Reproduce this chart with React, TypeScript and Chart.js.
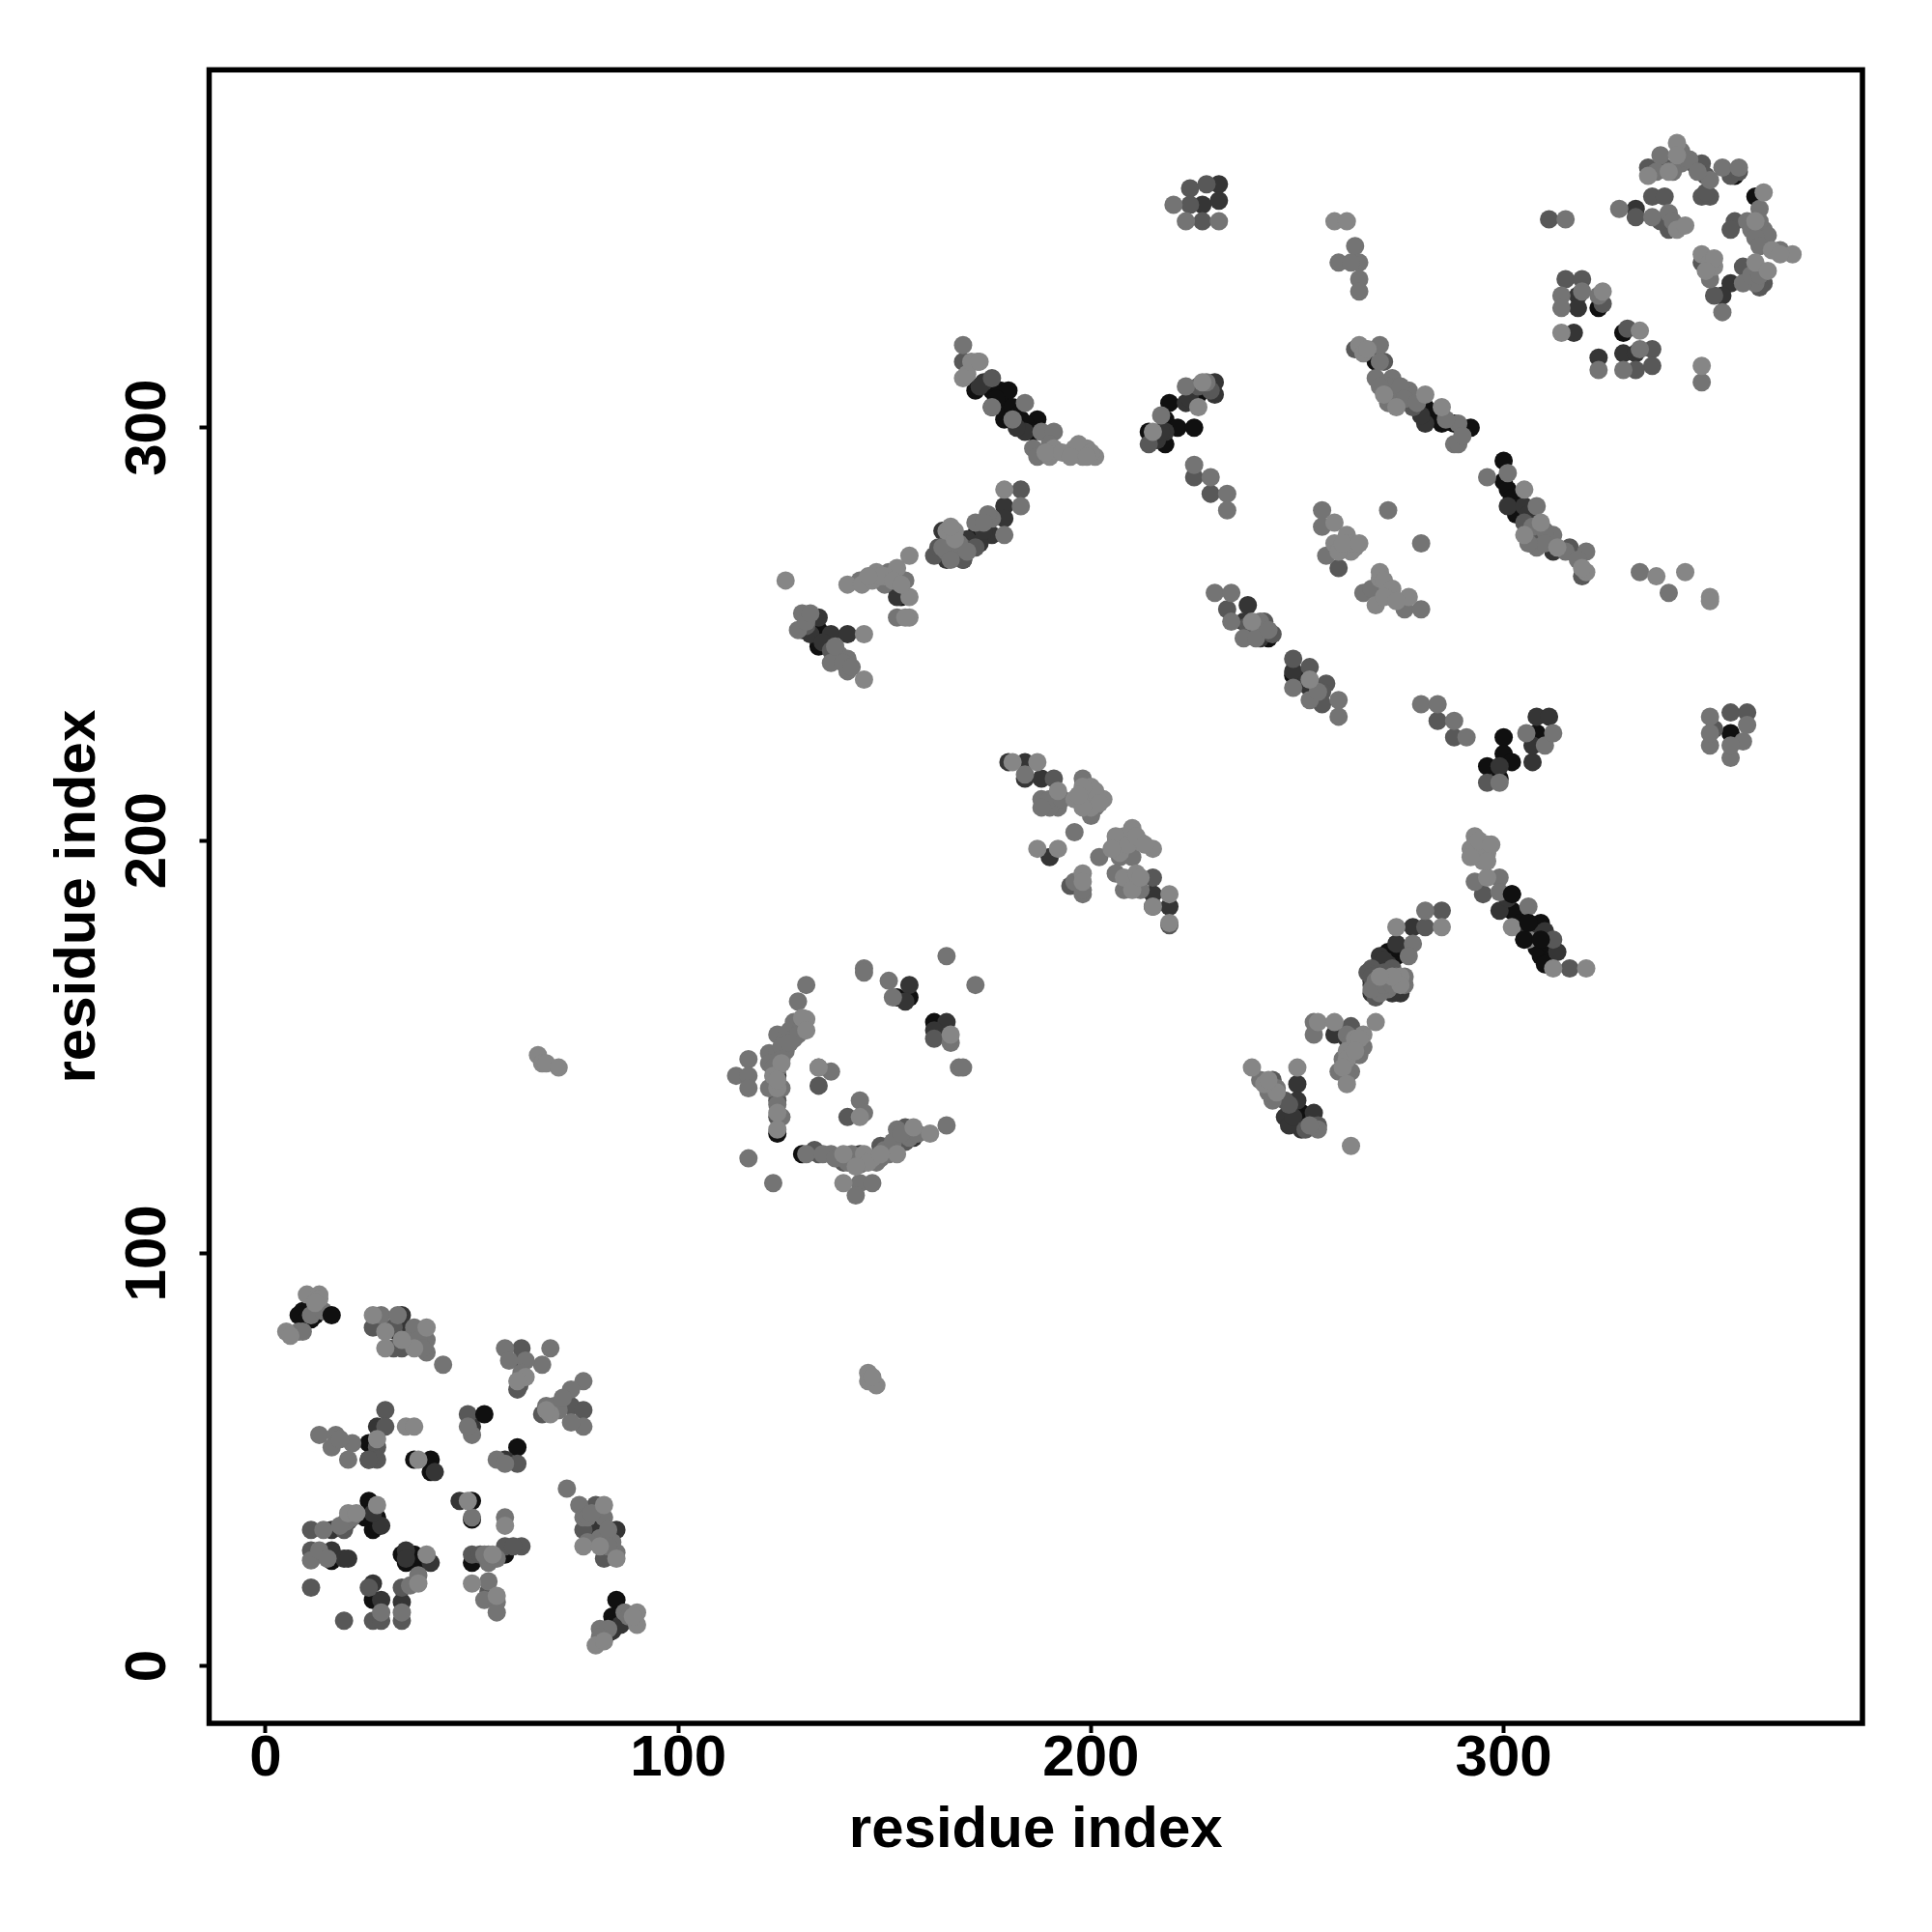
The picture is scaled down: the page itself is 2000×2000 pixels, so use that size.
import React, { useEffect, useRef } from "react";
import { Chart, registerables } from "chart.js";

Chart.register(...registerables);

type P = [number, number];

const xTicks = [0, 100, 200, 300];
const yTicks = [0, 100, 200, 300];
const axisTitle = "residue index";

const blackPoints: P[] = [
  [9,86],[8,85],[10,84],[11,84],[12,85],[32,81],[33,81],[62,74],[25,50],[25,54],[36,50],[40,50],[40,47],[61,53],[79,34],[80,32],[50,40],[50,35.5],[50,25],[58,27],[16,25.5],[25,40],[24,36],[26,35],[26,33],[25.6,37],[33,27],[36,27],[37,24.5],[34,25],[26,16],[85,16],[85,11],[83,8],
  [124,129],[130,124],[156,162],[153,162],[162,156],
  [172,309],[176,309],[178,309],[180,309],[176,305],[179,305],[179,302],[183,302],[187,302],[172,274],[134,251],[134,247],
  [214,299],[218,296],[218,302],[221,300],[225,300],[219,306],[226,308],[243,249],[249,240],[269,316],[281,305],[285,301],[288,301],[292,300],[300,292],[300,287],[301,285],[300,225],[300,221],[296,218],[302,219],[299,215],[308,226],
  [356,361],[361,356],[323,329],[329,323],
  [302,187],[302,183],[306,180],[309,180],[305,176],[309,176],[309,172],[274,172],[251,134],
  [177,307],[181,305],[182,303],[185,300],[184,301],[186,299],[154,259],[303,182],[304,180],[307,178],[308,174],[311,175],[310,170],[268,166],[272,173],[274,174],[249,135],[250,133],[240,251],[242,250],[250,239],[251,240],[283,303],[302,283],[303,279],[355,226],[27,34],[27,36],[35,26],[38,26],[80,34],[84,12],[84,10],
];

const charcoalPoints: P[] = [
  [33,85],[33,82],[27,58],[41,47],[50,58],[58,50],[85,33],[82,31],[80,31],[47,40],[16,33],[16,28],[19,26],[20,26],[28,34],[40,25],[34,28],[33,15.5],[26,20],[28,16],[84,8.5],
  [124,143],[144,124],[157,128],[156,165],[155,161],[165,156],[162,154],
  [191,294],[184,299],[179,281],[179,278],[176,274],[169,268],[165,268],[164,275],[153,259],[152,262],[134,254],[130,251],[137,250],[141,250],
  [180,219],[184,219],[184,215],[188,215],[190,196],[215,187],[215,184],[219,184],
  [218,299],[223,306],[230,311],[230,308],[238,257],[237,253],[241,249],[249,241],[253,237],[281,301],[301,281],[305,281],[312,270],[299,218],[307,219],[307,223],[308,230],[311,230],
  [332,353],[355,335],[353,332],[318,332],[318,329],[317,323],[323,317],[329,318],[332,318],
  [299,183],[313,173],[278,179],[274,175],[270,172],[270,169],[268,165],[275,163],[259,153],[262,152],[250,141],[250,137],[247,133],[254,134],[251,130],
  [231,359],[231,355],[227,354],
  [174,311],[173,310],[182,300],[165,274],[170,273],[173,272],[174,275],[132,250],[135,248],[301,186],[306,178],[310,178],[272,170],[271,171],[269,167],[273,163],[268,163],[248,131],[249,133],[216,297],[217,299],[224,307],[239,250],[252,238],[254,235],[280,303],[306,279],[26,37],[34,26],[81,33],[86,10],[62,70],
];

const dimPoints: P[] = [
  [26,82],[33,77],[31,77],[36,80],[62,77],[61,67],[61.5,68],[67,61],[74,63],[77,62],[29,62],[29,58],[27,53],[27,50],[25,50],[49,61],[61,49],[80,39],[77,33],[82,26],[50,27],[52,27],[58,29],[62,29],[60,29],[54,18],[11,33],[19,33],[11,28],[11,19],[33,19],[25,19],[26,11],[28,11],[33,11],[19,11],
  [124,137],[124,133],[134,140.6],[141,133],[133,125],[134,124],[140,122],[149,126],[155,127],[155,130.5],[162,152],
  [169,316],[176,312],[183,285],[172,271],[169,271],[169,268],[162,269],[165,272],[137,246],
  [191,215],[195,189],[215,191],[219,179.5],
  [214,296],[226,310],[225,288],[229,284],[233,256],[242,253],[244,250],[249,244],[253,242],[257,238],[256,233],[260,266],[264,319],[271,316],[278,305],[305,277],[308,274],[316,271],[319,264],[284,229],[288,225],[296,214],
  [332,351],[336,356],[339,356],[340,348],[335,363],[339,363],[346,364],[348,364],[348,356],[350,356],[355,361],[356,350],[355,348],[363,335],[348,340],[358,339],[351,332],
  [315,336],[319,336],[324,330],[330,324],[336,319],[336,315],[332,314],[311,350.5],
  [295,187],[312,176],[316,169],[285,183],[281,179],[268,169],[269,162],[263,155],[244,142],[247,137],[255,131],
  [224,358],[224,354],[228,359],[227,350],[355,231],[359,231],[351,227],
  [166,270],[163,271],[131,252],[267,168],[268,167],[271,168],[272,166],[273,169],[248,136],[252,130],[229,309],[238,252],[256,236],[275,307],[349,357],[349,361],[357,362],[360,336],[362,334],[338,350],[20,35],[31,82],[35,79],
];

const grayPoints: P[] = [
  [8,81],[9,81],[11,85],[14,86],[28,85],[36,82],[39,79],[39,76],[43,73],[32,85],[58,77],[69,77],[67,73],[63,74],[59,74],[77,69],[74,67],[70,63],[77,58],[74,59],[68,63],[13,56],[17,56],[21,54],[20,50],[16,53],[18,55],[50,56],[49,58],[56,50],[58,49],[73,43],[76,39],[77,36],[82,36],[81,31],[85,27.5],[84,30],[50,36],[58,36],[54,27],[54,25],[56,26],[54,20.5],[53,16],[56,15.5],[56,13],[19.5,35],[14,33],[11,25.6],[13,28],[15,26],[35,19.5],[37,22],[33,13],[28,13],[87,13],[81,9],
  [131,165],[129,161],[128,156],[124,153],[126,152],[126,149],[122,148.5],[124,148.5],[117,147],[114,143],[117,143],[117,140],[122,146],[124,144.6],[122,140],[125,133],[137,144],[134,145],[144,137],[145,134],[131,124],[137,124],[149,123],[144,121.5],[153,130],[165,131],[144,117],[147,117],[143,114],[117,123],[123,117],[145,169],[145,168],[151,166],[152,162],[166,151],[165,172],[172,165],[168,145],[169,145],
  [169,320],[176,305],[184,306],[181,302],[188,299],[191,299],[186,295],[183,281],[179,274],[176,278],[172,277],[167,271],[165,270],[151,265],[155,263],[153,254],[144,263],[130,255],[129,251],[139,245],[137,243],[141,244],[141,241],
  [184,216],[188,210],[192,208],[198,215],[200,206],[201,208],[196,202],[210,196],[202,196],[198,187],
  [223,310],[225,291],[229,288],[233,284],[233,280],[230,260],[234,260],[234,253],[237,249],[240,249],[249,237],[253,234],[260,234],[260,230],[256,280],[256,276],[257,269],[272,280],[280,272],[266,260],[273,259],[276,256],[280,256],
  [270,320],[270,316],[269,312],[273,312],[274,308],[277,309],[289,301],[288,296],[289,296],[296,288],[301,289],[308,281],[312,274],[308,271],[320,270],[280,233],[284,233],[288,229],[291,225],[299,214],[310,223],[305.5,226],[312,226],
  [315,350.5],[328,353],[336,351],[340,352],[338,366],[343,364],[350,360],[353,363],[357,363],[362,353],[359,350],[363,348],[364,346.6],[367,343],[361,335],[358,335],[350,336],[353,328],[348,311],
  [314,332],[319,333],[323,332],[314,329],[323,314],[329,314],[333,319],
  [293,190],[299,191],[299,187.5],[306,184],[281,183],[278,175],[277,172],[276,165],[272,164],[270,163],[254,156],[254,153],[265,150],[265,148],[263,144],[241,142],[244,137],[255,130],
  [220,354],[223,350],[231,350],[260,340],[264,344],[265,340],[265,336],[265,333],[263,340],
  [350,223],[355,220],[359,228],[358,224],[350,230],[350,226],[355,223],[340,260],[333,265],
  [125,140],[124,136],[125,150],[127,154],[128,152],[130,155],[129,153],[127,151],[125,147],[123,145],
  [135,124],[138,123],[142,124],[141,122],[148,122],[150,125],[151,124],[152,127],[156,128],[158,129],[154,129],
  [187,293],[190,296],[164,271],[168,272],[166,268],[170,270],[175,279],[174,277],[150,262],[131,253],[132,255],[138,247],[140,243],[142,242],
  [190,208],[190,210],[188,208],[193,210],[207,196],[208,188],[209,190],[212,188],[206,192],[198,188],[196,190],
  [269,166],[268,164],[271,165],[273,165],[274,167],[276,167],[262,153],[263,151],[266,150],[261,147],[260,144],[262,143],[243,139],[245,140],[253,131],
  [217,303],[228,311],[241,253],[243,251],[255,236],[272,310],[275,310],[270,310],[272,306],[276,307],[279,306],[286,302],[290,298],[268,261],[307,276],[310,275],[310,272],[315,270],[318,268],[306,272],
  [345,365],[347,362],[343,367],[341,362],[337,362],[360,348],[362,350],[361,346],[362,344],[360,337],[362,337],[341,350],
  [21,36],[18,34],[78,36],[79,37],[83,33],[83,29],[78,30],[88,12],[83,9],[81,7],[34,79],[37,79],[38,77],[71,62],[72,65],[62,71],[53,27],
];

const palePoints: P[] = [
  [10,90],[13,90],[13,89],[12,88],[5,81],[6,80],[26,85],[29,81],[29,77],[39,82],[36,77],[63,70],[61,69],[69,61],[27,55],[34,58],[36,58],[37,50],[49,40],[58,34],[82,39],[77,29],[81,29],[85,26],[50,20],[56,17],[20,37],[22,37],[27,39],[39,27],[37,20],[90,13],[90,10],[80,5],[82,6],
  [66,148],[67,146],[68,146],[71,145],[146,71],[146,69],[148,68],[147,70],
  [131,156.7],[124,140],[124,130],[134,145],[144,133],[140,124],[145,124],[147,123],[153,124],[157,130.5],[161,129],[140,117],[166,153],
  [172.5,316],[169,312],[179,285],[191,295],[190,293],[196,295],[199,295],[198,293],[201,293],[196,294],[198,294],[156,269],[153,266],[156,259],[156,254],[155,254],[148,265],[141,262],[144.5,262],[147,263],[150,264],[165,275],[167,275],[145,250],[145,239],[126,263],
  [181,219],[187,219],[192,212],[196,210],[200,213],[203,210],[206,199.6],[210,203],[208,201],[215,198],[212,199.6],[187,198],[192,198],[198,192],[198,190],[208,191],[211,192],[210,188],[215,184],[219,187],[219,180],
  [215,299],[227,311],[226,305],[239,253],[253,239],[259,277],[262,271],[259,272],[264,271],[270,263.5],[272,261],[269,257],[277,259],[265,320],[271,308],[281,308],[274,305],[285,305],[305,285],[309,277],[305,274],[313,271],[320,265],
  [335,361],[340,362],[342,369],[342,366],[342,348],[363,357],[361,350],[370,342],[361,340],[364,338],[348,342],[350,340],[351,339],[348,315],[324,333],[314,323],[333,323.5],
  [293,201],[292,198],[296,199],[296,197],[295,195],[296,191],[302,179],[306,176],[312,169],[320,169],[285,179],[274,179],[275,167],[255,156],[259,156],[266,153],[269,156],[262,149],[262,147],[261,145],[262,141],[263,126],[239,145],[250,145],[245,139],
  [259,350],[262,350],[337,264],[344,265],[350,259],[350,258],
  [123,143],[125,146],[130,157],[131,154],[124,142],[124,134],[146,122],[143,121],[149,124],
  [170,313],[171,316],[173,316],[189,294],[193,294],[197,296],[200,294],[195,293],[199,293],[167,273],[166,276],[149,264],[152,263],[146,264],[154,262],
  [199,210],[200,208],[199,212],[201,212],[202,209],[198,213],[198,208],[197,211],[206,201],[207,197],[209,199],[211,201],[213,199],[205,198],[212,191],
  [293,199],[295,198],[294,200],[297,199],[296,195],[292,196],[275,165],[273,167],[270,167],[264,152],[265,152],[264,149],[242,141],[243,142],
  [266,318],[267,319],[262,274],[263,270],[260,270],[263,272],[265,272],[261,272],[270,265],[271,263],[273,261],[271,259],[274,258],[319,266],
  [365,343],[367,342],[351,341],[349,338],[344,349],[89,12],[33,79],[68,62],[55,27],
];

const topPoints: P[] = [[16,85],[53,61],[305,176],[309,176],[306,180],[302,187]];

const levels: { label: string; points: P[]; color: string }[] = [
  { label: "level 1", points: blackPoints, color: "#101010" },
  { label: "level 2", points: charcoalPoints, color: "#353535" },
  { label: "level 3", points: dimPoints, color: "#585858" },
  { label: "level 4", points: grayPoints, color: "#747474" },
  { label: "level 5", points: palePoints, color: "#868686" },
  { label: "level 6", points: topPoints, color: "#101010" },
];

const FONT = "'Liberation Sans', Arial, sans-serif";
const FONT_SIZE = 60;

const frame = {
  id: "frame",
  afterDatasetsDraw(chart: any) {
    const { ctx, chartArea: a, scales } = chart;
    ctx.save();
    ctx.strokeStyle = "#000";
    ctx.lineWidth = 5.5;
    ctx.strokeRect(a.left, a.top, a.right - a.left, a.bottom - a.top);
    ctx.fillStyle = "#000";
    ctx.font = `bold ${FONT_SIZE}px ${FONT}`;
    ctx.textAlign = "center";
    ctx.textBaseline = "alphabetic";
    for (const v of yTicks) {
      ctx.save();
      ctx.translate(170.5, scales.y.getPixelForValue(v));
      ctx.rotate(-Math.PI / 2);
      ctx.fillText(String(v), 0, 0);
      ctx.restore();
    }
    ctx.restore();
  },
};

export default function App() {
  const ref = useRef<HTMLCanvasElement>(null);
  useEffect(() => {
    const chart = new Chart(ref.current!, {
      type: "scatter",
      data: {
        datasets: levels.map((l, i) => ({
          label: l.label,
          data: l.points.map(([x, y]) => ({ x, y })),
          backgroundColor: l.color,
          borderWidth: 0,
          pointRadius: 9.5,
          order: levels.length - i,
        })),
      },
      options: {
        responsive: false,
        animation: false,
        layout: { padding: { left: 45, right: 72, top: 72.3, bottom: 69 } },
        plugins: { legend: { display: false }, tooltip: { enabled: false } },
        scales: {
          x: {
            type: "linear",
            min: -13.69,
            max: 386.94,
            afterBuildTicks: (s: any) => { s.ticks = xTicks.map((value) => ({ value })); },
            afterFit: (s: any) => { s.height = 147; },
            grid: { drawOnChartArea: false, tickLength: 10, tickWidth: 4, tickColor: "#000", drawTicks: true },
            border: { display: false },
            ticks: { color: "#000", padding: -9, maxRotation: 0, font: { family: FONT, size: FONT_SIZE, weight: "bold" } },
            title: { display: true, text: axisTitle, color: "#000", padding: { top: 0, bottom: 0 }, font: { family: FONT, size: FONT_SIZE, weight: "bold" } },
          },
          y: {
            type: "linear",
            min: -13.88,
            max: 386.7,
            afterBuildTicks: (s: any) => { s.ticks = yTicks.map((value) => ({ value })); },
            afterFit: (s: any) => { s.width = 171.5; },
            grid: { drawOnChartArea: false, tickLength: 10, tickWidth: 4, tickColor: "#000", drawTicks: true },
            border: { display: false },
            ticks: { display: false },
            title: { display: true, text: axisTitle, color: "#000", padding: { top: 0, bottom: 0 }, font: { family: FONT, size: FONT_SIZE, weight: "bold" } },
          },
        },
      },
      plugins: [frame],
    } as any);
    return () => chart.destroy();
  }, []);
  return <canvas ref={ref} width={2000} height={2000} style={{ position: "absolute", left: 0, top: 0, width: 2000, height: 2000 }} />;
}
